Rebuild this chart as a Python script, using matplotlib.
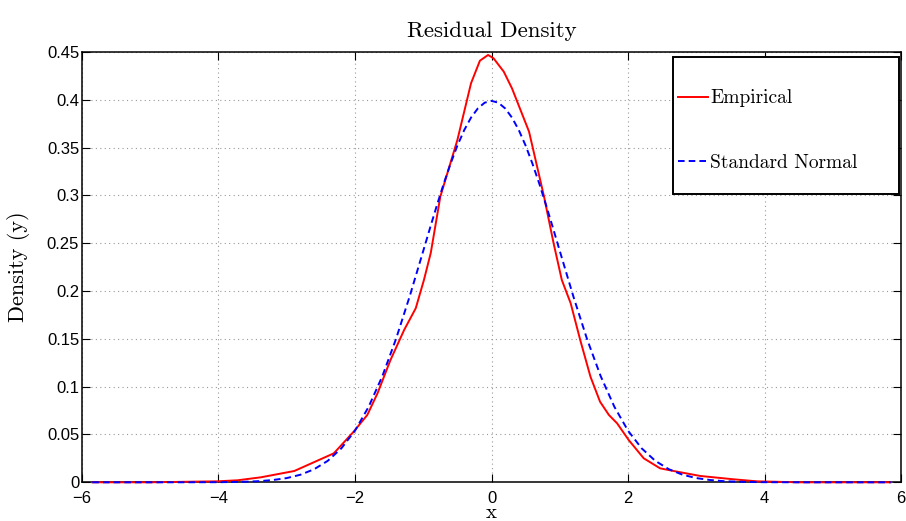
import matplotlib
matplotlib.use("Agg")
import matplotlib.pyplot as plt
from matplotlib.patches import Rectangle
from matplotlib.font_manager import FontProperties

# ---- data ----
emp_x = [-5.85, -4.99, -4.02, -3.72, -3.38, -2.89, -2.31, -2.02, -1.82, -1.67,
         -1.48, -1.28, -1.11, -0.99, -0.89, -0.75, -0.50, -0.30, -0.17, -0.05,
         0.03, 0.18, 0.30, 0.55, 0.77, 0.91, 1.03, 1.16, 1.30, 1.45,
         1.59, 1.72, 1.84, 2.01, 2.23, 2.47, 2.72, 3.06, 3.55, 3.89,
         4.50, 5.85]
emp_y = [0.0, 0.0, 0.0010, 0.0021, 0.0052, 0.0118, 0.0303, 0.0529, 0.0704, 0.0931,
         0.1279, 0.1593, 0.1820, 0.2116, 0.2398, 0.2987, 0.3580, 0.4173, 0.4409, 0.4469,
         0.4434, 0.4294, 0.4120, 0.3667, 0.2987, 0.2499, 0.2116, 0.1872, 0.1488, 0.1104,
         0.0843, 0.0704, 0.0617, 0.0442, 0.0251, 0.0146, 0.0111, 0.0066, 0.0031, 0.0010,
         0.0, 0.0]

norm_x = [-5.85, -4.6, -4.0, -3.8, -3.6, -3.4, -3.2, -3.0, -2.8, -2.6, -2.4, -2.2,
          -2.0, -1.8, -1.6, -1.4, -1.2, -1.0, -0.9, -0.8, -0.7, -0.6, -0.5, -0.4,
          -0.3, -0.2, -0.1, 0.0, 0.1, 0.2, 0.3, 0.4, 0.5, 0.6, 0.7, 0.8, 0.9,
          1.0, 1.2, 1.4, 1.6, 1.8, 2.0, 2.2, 2.4, 2.6,
          2.8, 3.0, 3.2, 3.4, 3.6, 3.8, 4.0, 4.6, 5.85]
norm_y = [0.0, 0.0, 0.0001, 0.0003, 0.0006, 0.0012, 0.0024, 0.0044, 0.0079, 0.0136,
          0.0224, 0.0355, 0.0540, 0.0790, 0.1109, 0.1497, 0.1942, 0.2420, 0.2661,
          0.2897, 0.3123, 0.3332, 0.3521, 0.3683, 0.3814, 0.3910, 0.3970, 0.3989,
          0.3970, 0.3910, 0.3814, 0.3683, 0.3521, 0.3332, 0.3123, 0.2897, 0.2661,
          0.2420, 0.1942, 0.1497, 0.1109, 0.0790, 0.0540, 0.0355, 0.0224, 0.0136,
          0.0079, 0.0044, 0.0024, 0.0012, 0.0006, 0.0003, 0.0001, 0.0, 0.0]

x_ticks = [-6, -4, -2, 0, 2, 4, 6]
y_ticks = [0, 0.05, 0.1, 0.15, 0.2, 0.25, 0.3, 0.35, 0.4, 0.45]
y_tick_labels = ["0", "0.05", "0.1", "0.15", "0.2", "0.25", "0.3", "0.35", "0.4", "0.45"]

title = "Residual Density"
xlabel = "x"
ylabel = "Density (y)"
labels = ["Empirical", "Standard Normal"]

# ---- figure ----
fig = plt.figure(figsize=(9.06, 5.21), dpi=100)
ax = fig.add_axes([0.0905, 0.0743, 0.9040, 0.8259])

ax.plot(emp_x, emp_y, color="red", lw=1.4, label=labels[0], zorder=3, clip_on=False)
ax.plot(norm_x, norm_y, color="blue", lw=1.4, ls=(0, (3.4, 2.1)), label=labels[1],
        zorder=3, clip_on=False)

ax.set_xlim(-6, 6)
ax.set_ylim(0, 0.45)
ax.set_xticks(x_ticks)
ax.set_yticks(y_ticks)
ax.set_yticklabels(y_tick_labels)

tick_font = "Liberation Sans"
for lab in ax.get_xticklabels() + ax.get_yticklabels():
    lab.set_fontfamily(tick_font)
    lab.set_fontsize(12)

ax.tick_params(axis="both", which="major", direction="in", length=6, width=0.8,
               top=True, right=True, colors="black")
ax.tick_params(axis="x", pad=6)
ax.tick_params(axis="y", pad=2)

for s in ax.spines.values():
    s.set_linewidth(1.1)
    s.set_color("black")

ax.grid(True, color="#999999", linestyle=(0, (1, 3)), linewidth=0.8)
ax.set_axisbelow(True)

ax.set_title(title, fontfamily="cmr10", fontsize=16.5, pad=11)
ax.set_xlabel(xlabel, fontfamily="cmr10", fontsize=15, labelpad=-1)
ax.set_ylabel(ylabel, fontfamily="cmr10", fontsize=16, labelpad=12)

# legend box
ax.add_patch(Rectangle((0.7216, 0.6693), 0.2759, 0.3198, transform=ax.transAxes,
                       facecolor="white", edgecolor="black", lw=1.4, zorder=4.5,
                       clip_on=False))
leg = ax.legend(loc="upper left", bbox_to_anchor=(0.7277, 0.913), borderaxespad=0,
                borderpad=0, frameon=False, prop=FontProperties(family="cmr10", size=14),
                handlelength=1.55, handletextpad=0.1, labelspacing=2.4)
leg.set_zorder(5)

fig.savefig("out.png", dpi=100)
